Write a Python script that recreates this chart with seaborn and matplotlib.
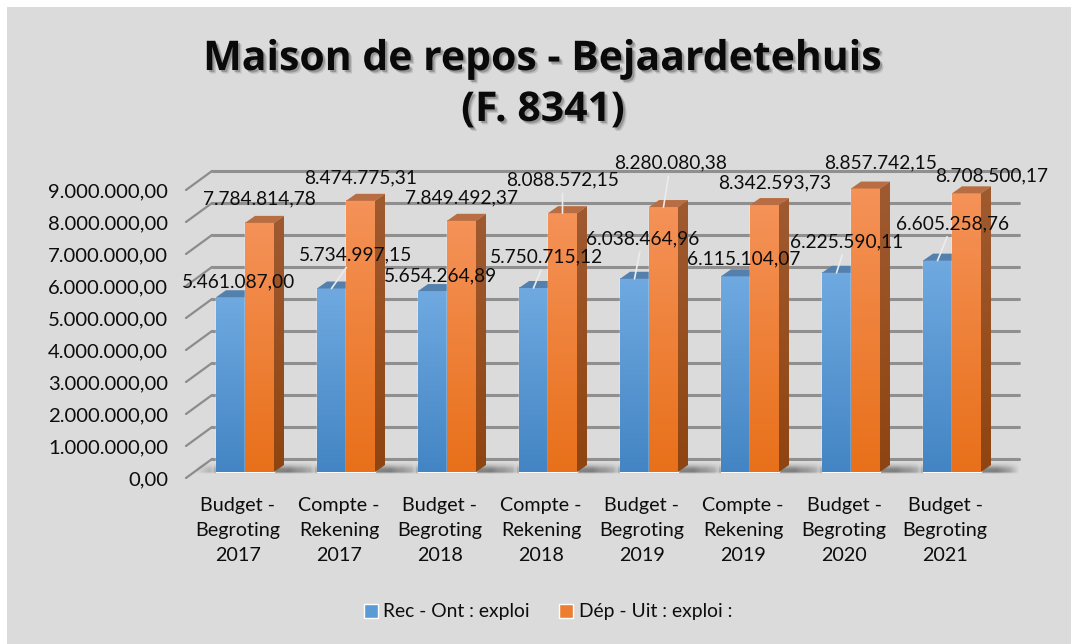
import numpy as np
import pandas as pd
import matplotlib
matplotlib.use("Agg")
import matplotlib.pyplot as plt
import matplotlib.patheffects as pe
from matplotlib.patches import Polygon, Rectangle
from matplotlib.colors import LinearSegmentedColormap
import seaborn as sns

categories = ["Budget -\nBegroting\n2017", "Compte -\nRekening\n2017",
              "Budget -\nBegroting\n2018", "Compte -\nRekening\n2018",
              "Budget -\nBegroting\n2019", "Compte -\nRekening\n2019",
              "Budget -\nBegroting\n2020", "Budget -\nBegroting\n2021"]
rec_values = [5461087.00, 5734997.15, 5654264.89, 5750715.12,
              6038464.96, 6115104.07, 6225590.11, 6605258.76]
dep_values = [7784814.78, 8474775.31, 7849492.37, 8088572.15,
              8280080.38, 8342593.73, 8857742.15, 8708500.17]
series_names = ["Rec - Ont : exploi", "Dép - Uit : exploi :"]
y_ticks = [0, 1000000, 2000000, 3000000, 4000000, 5000000, 6000000, 7000000, 8000000, 9000000]


def be_number(v):
    return "{:,.2f}".format(v).replace(",", " ").replace(".", ",").replace(" ", ".")


# label offsets from the top of each bar, in pixels
rec_offsets = [(8, 15), (24, 34), (8, 15), (13, 31), (8, 40), (8, 17), (10, 31), (15, 37)]
dep_offsets = [(0, 24), (0, 23), (0, 23), (0, 33), (7, 44), (10, 22), (15, 26), (25, 17)]
rec_leaders = [False, True, False, True, True, False, True, True]
dep_leaders = [False, False, False, True, True, False, False, False]

W, H = 1071, 644
X_PX = 1 / 101          # one pixel in category units
Y_PX = 1000000 / 32     # one pixel in value units
FONT = "Lato"

sns.set_style("white")
plt.rcParams["font.family"] = [FONT, "DejaVu Sans"]

fig = plt.figure(figsize=(W / 100, H / 100), dpi=100, facecolor="white")
fig.patches.append(Rectangle((7 / W, 0), 1 - 7 / W, 1 - 7 / H, transform=fig.transFigure,
                             facecolor="#dbdbdb", edgecolor="none", zorder=-10))

ax = fig.add_axes([186 / W, 1 - 478 / H, (1019 - 186) / W, (478 - 171) / H])
ax.patch.set_visible(False)

df = pd.DataFrame({
    "cat": categories * 2,
    "val": rec_values + dep_values,
    "serie": [series_names[0]] * 8 + [series_names[1]] * 8,
})
sns.barplot(data=df, x="cat", y="val", hue="serie", palette=["#5b9bd5", "#ed7d31"],
            width=58 / 101, gap=0, saturation=1, ax=ax, zorder=3, legend=True)

xlim = ((186 - 245) * X_PX, (1019 - 245) * X_PX)
ylim = (-6 * Y_PX, 301 * Y_PX)

# grid drawn as floor/back wall of the fake 3d box
for v in y_ticks:
    ax.plot([xlim[0], (212 - 245) * X_PX], [v - 6 * Y_PX, v + 13 * Y_PX],
            color="#8c8c8c", lw=1.6, zorder=1, clip_on=False, solid_capstyle="round")
    ax.plot([(212 - 245) * X_PX, xlim[1]], [v + 13 * Y_PX, v + 13 * Y_PX],
            color="#8f8f8f", lw=2.2, zorder=1, clip_on=False)

# soft shadow on the floor
for i in range(len(categories)):
    hx = np.interp(np.linspace(-50, 70, 120), [-50, -36, -32, -30, 45, 58, 68], [0, .4, .25, .7, 1, .6, 0])
    vy = np.interp(np.linspace(10, -2, 24), [-2, 0, 3, 7, 10], [0, .9, .8, .25, 0])
    rgba = np.zeros((24, 120, 4))
    rgba[..., :3] = .3
    rgba[..., 3] = np.outer(vy, hx) * .75
    ax.imshow(rgba, extent=(i - 50 * X_PX, i + 70 * X_PX, -2 * Y_PX, 10 * Y_PX), origin="upper",
              aspect="auto", interpolation="bilinear", zorder=1.5)

faces = [("#6fa9e0", "#4385c4", "#5480ae", "#3f6f9e"),
         ("#f59258", "#e8701a", "#b86e42", "#a05a30")]
for s, cont in enumerate(ax.containers):
    front_top, front_bot, top_col, side_col = faces[s]
    cmap = LinearSegmentedColormap.from_list("f", [front_bot, front_top])
    side_cmap = LinearSegmentedColormap.from_list("s", ["#8f4511", side_col])
    for bar in cont:
        x0, w, h = bar.get_x(), bar.get_width(), bar.get_height()
        x1 = x0 + w
        dx, dy = 10 * X_PX, 7 * Y_PX
        z = 3 + s
        bar.set_zorder(z)
        ax.imshow(np.linspace(1, 0, 64).reshape(-1, 1), cmap=cmap, aspect="auto",
                  extent=(x0, x1, 0, h), zorder=z + .1, vmin=0, vmax=1)
        ax.add_patch(Polygon([(x0, h), (x1, h), (x1 + dx, h + dy), (x0 + dx, h + dy)],
                             facecolor=top_col, edgecolor="none", zorder=z + .2))
        im2 = ax.imshow(np.linspace(1, 0, 64).reshape(-1, 1), cmap=side_cmap, aspect="auto",
                        extent=(x1, x1 + dx, 0, h + dy), zorder=z + .2, vmin=0, vmax=1)
        side = Polygon([(x1, 0), (x1 + dx, dy), (x1 + dx, h + dy), (x1, h)],
                       facecolor="none", edgecolor="none", transform=ax.transData)
        ax.add_patch(side)
        im2.set_clip_path(side)

ax.set_xlim(xlim)
ax.set_ylim(ylim)

# data labels
for cont, vals, offs, leads in zip(ax.containers, [rec_values, dep_values],
                                   [rec_offsets, dep_offsets], [rec_leaders, dep_leaders]):
    for bar, v, off, lead in zip(cont, vals, offs, leads):
        props = None
        if lead:
            props = dict(arrowstyle="-", color="#ececec", lw=1.2, shrinkA=1, shrinkB=0)
        ax.annotate(be_number(v), xy=(bar.get_x() + bar.get_width() / 2, v), xytext=off,
                    textcoords="offset pixels", ha="center", va="center", fontsize=13.8,
                    color="#0d0d0d", zorder=10, arrowprops=props, annotation_clip=False)

ax.set_yticks([v - 6 * Y_PX for v in y_ticks], [be_number(v) for v in y_ticks])
ax.set_xticks([i - 7 * X_PX for i in range(len(categories))], categories)
ax.tick_params(axis="y", length=0, pad=13, labelsize=14.6, labelcolor="#0d0d0d")
ax.tick_params(axis="x", length=0, pad=14, labelsize=14.2, labelcolor="#0d0d0d")
for t in ax.get_xticklabels():
    t.set_linespacing(1.55)
ax.set_xlabel("")
ax.set_ylabel("")
sns.despine(ax=ax, left=True, bottom=True)

handles, labels = ax.get_legend_handles_labels()
ax.legend(handles, labels, loc="center", bbox_to_anchor=(548 / W, 1 - 612 / H),
          bbox_transform=fig.transFigure, ncol=2, frameon=False, fontsize=13.9,
          handlelength=.72, handleheight=.72, handletextpad=.3, columnspacing=1.5,
          labelcolor="#0d0d0d")

fig.text(543 / W, 1 - 85 / H, "Maison de repos - Bejaardetehuis\n(F. 8341)",
         ha="center", va="center", fontsize=29.5, fontweight="bold", family="Open Sans",
         linespacing=1.32, color="#0a0a0a",
         path_effects=[pe.SimplePatchShadow(offset=(2.5, -2.5), shadow_rgbFace="k", alpha=.12),
                       pe.SimplePatchShadow(offset=(1.5, -1.5), shadow_rgbFace="k", alpha=.22),
                       pe.Normal()])

fig.savefig("out.png", dpi=100, facecolor="white")
